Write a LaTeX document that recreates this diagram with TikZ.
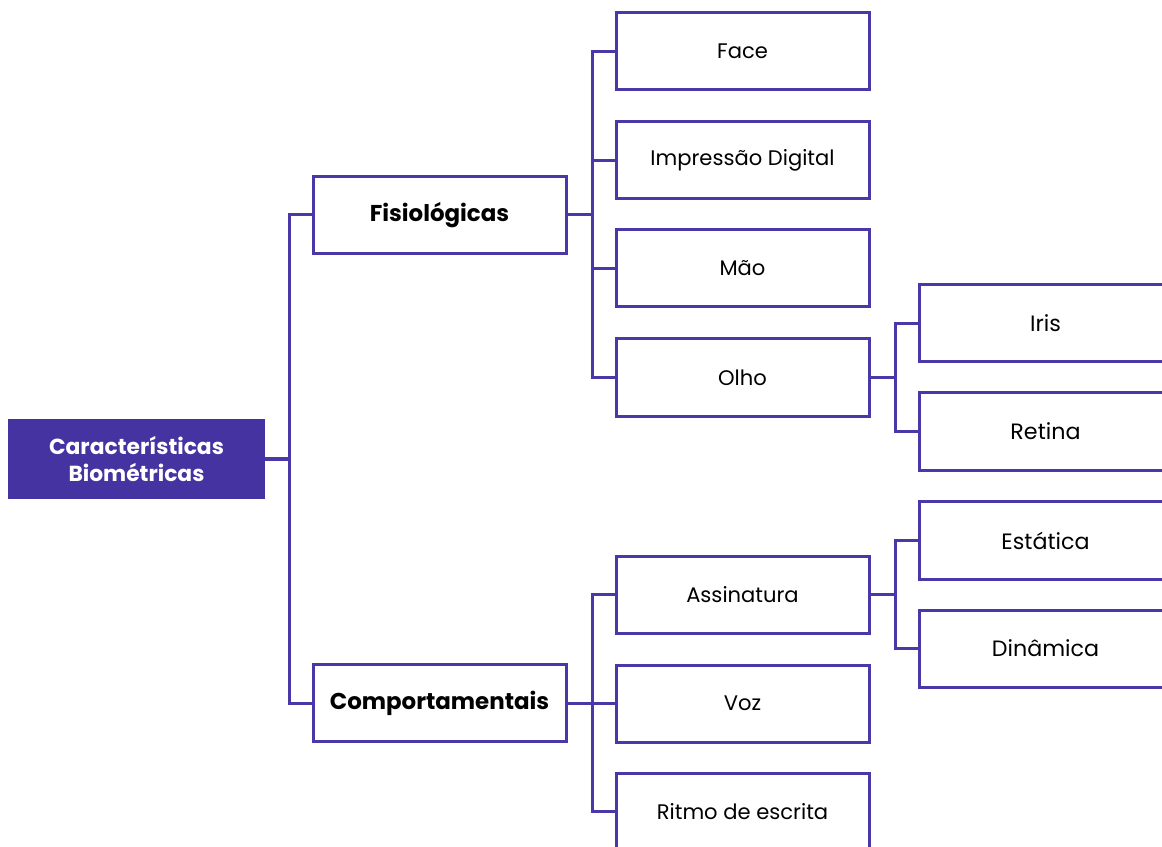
\documentclass[tikz,border=0pt]{standalone}
\usepackage{fontspec}
\setmainfont{Poppins}
\usetikzlibrary{positioning}
\definecolor{bioline}{RGB}{72, 56, 168}
\definecolor{biofill}{RGB}{68, 51, 160}

\begin{document}
\begin{tikzpicture}[
    x=0.25mm, y=-0.25mm,
    box/.style={draw=bioline, line width=0.75mm, fill=white,
                minimum width=63.25mm, minimum height=19.25mm,
                inner sep=0pt, align=center},
    rootbox/.style={box, draw=biofill, fill=biofill, text=white,
                    font=\bfseries\fontsize{15.5}{19.8}\selectfont},
    catbox/.style={box, font=\bfseries\fontsize{16.3}{19}\selectfont},
    leafbox/.style={box, font=\fontsize{15}{18}\selectfont},
    subbox/.style={box, font=\fontsize{15.8}{19}\selectfont},
    link/.style={draw=bioline, line width=0.75mm},
]
\useasboundingbox (0,0) rectangle (1162,847);
\clip (0,0) rectangle (1162,847);

% -- Nodes ----------------------------------
\node[rootbox] (bio) at (136.5, 459)
    {Características\\Biométricas};
\node[catbox] (fis)  at (439.5, 215) {Fisiológicas};
\node[catbox] (comp) at (439.5, 703) {Comportamentais};

\node[leafbox] (face)  at (742.5, 51.5)  {Face};
\node[leafbox] (dig)   at (742.5, 160.5) {Impressão Digital};
\node[leafbox] (mao)   at (742.5, 268.5) {Mão};
\node[leafbox] (olho)  at (742.5, 377.5) {Olho};
\node[leafbox] (ass)   at (742.5, 594.5) {Assinatura};
\node[leafbox] (voz)   at (742.5, 703.5) {Voz};
\node[leafbox] (ritmo) at (742.5, 811.5) {Ritmo de escrita};

\node[subbox] (iris)   at (1045.5, 323.5) {Iris};
\node[subbox] (retina) at (1045.5, 431.5) {Retina};
\node[subbox] (est)    at (1045.5, 540.5) {Estática};
\node[subbox] (din)    at (1045.5, 648.5) {Dinâmica};

% -- Tree links -----------------------------
\foreach \child in {fis, comp}
    \draw[link] (bio.east) -- ++(25,0) |- (\child.west);
\foreach \child in {face, dig, mao, olho}
    \draw[link] (fis.east) -- ++(25,0) |- (\child.west);
\foreach \child in {ass, voz, ritmo}
    \draw[link] (comp.east) -- ++(25,0) |- (\child.west);
\foreach \child in {iris, retina}
    \draw[link] (olho.east) -- ++(25,0) |- (\child.west);
\foreach \child in {est, din}
    \draw[link] (ass.east) -- ++(25,0) |- (\child.west);

\end{tikzpicture}
\end{document}
